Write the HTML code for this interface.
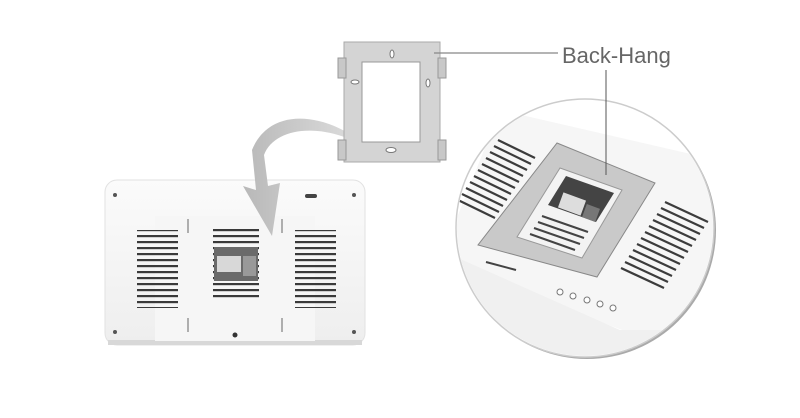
<!DOCTYPE html>
<html><head><meta charset="utf-8"><style>
html,body{margin:0;padding:0;background:#fff;width:800px;height:418px;overflow:hidden}
</style></head><body>
<svg width="800" height="418" viewBox="0 0 800 418" xmlns="http://www.w3.org/2000/svg">
<defs>
<linearGradient id="dev" x1="0" y1="0" x2="0" y2="1"><stop offset="0" stop-color="#fbfbfb"/><stop offset="1" stop-color="#eeeeee"/></linearGradient>
<linearGradient id="arr" x1="0" y1="0" x2="1" y2="0"><stop offset="0" stop-color="#b8b8b8"/><stop offset="1" stop-color="#e4e4e4"/></linearGradient>
<pattern id="vent" width="10" height="6" patternUnits="userSpaceOnUse"><rect width="10" height="2.2" y="1" fill="#3a3a3a"/></pattern>
<clipPath id="cc"><circle cx="585" cy="228" r="128"/></clipPath>
</defs>
<rect x="105" y="180" width="260" height="165" rx="12" fill="url(#dev)" stroke="#e2e2e2"/>
<rect x="108" y="340" width="254" height="5" fill="#d8d8d8"/>
<rect x="155" y="216" width="160" height="125" fill="#f6f6f6"/>
<rect x="137" y="230" width="41" height="78" fill="url(#vent)"/>
<rect x="295" y="230" width="41" height="78" fill="url(#vent)"/>
<rect x="213" y="227" width="46" height="73" fill="url(#vent)"/>
<rect x="214" y="247" width="44" height="34" fill="#6a6a6a"/>
<rect x="217" y="256" width="24" height="16" fill="#d8d8d8"/>
<rect x="243" y="256" width="13" height="20" fill="#999"/>
<circle cx="115" cy="195" r="2" fill="#555"/><circle cx="354" cy="195" r="2" fill="#555"/>
<circle cx="115" cy="332" r="2" fill="#555"/><circle cx="354" cy="332" r="2" fill="#555"/>
<circle cx="235" cy="335" r="2.5" fill="#333"/>
<rect x="305" y="194" width="12" height="4" rx="2" fill="#444"/>
<line x1="188" y1="219" x2="188" y2="233" stroke="#666"/><line x1="282" y1="219" x2="282" y2="233" stroke="#666"/>
<line x1="188" y1="318" x2="188" y2="332" stroke="#666"/><line x1="282" y1="318" x2="282" y2="332" stroke="#666"/>
<path d="M378,155 C330,110 270,105 252,150 L256,190 L243,186 L272,236 L280,183 L268,186 L264,155 C275,125 330,120 378,155 Z" fill="url(#arr)"/>
<rect x="344" y="42" width="96" height="120" fill="#d4d4d4" stroke="#aaa"/>
<rect x="338" y="58" width="8" height="20" fill="#c8c8c8" stroke="#999"/><rect x="438" y="58" width="8" height="20" fill="#c8c8c8" stroke="#999"/>
<rect x="338" y="140" width="8" height="20" fill="#c8c8c8" stroke="#999"/><rect x="438" y="140" width="8" height="20" fill="#c8c8c8" stroke="#999"/>
<rect x="362" y="62" width="58" height="80" fill="#fff" stroke="#999"/>
<ellipse cx="392" cy="54" rx="2" ry="4" fill="#fff" stroke="#777"/>
<ellipse cx="355" cy="82" rx="4" ry="2" fill="#fff" stroke="#777"/>
<ellipse cx="428" cy="83" rx="2" ry="4" fill="#fff" stroke="#777"/>
<ellipse cx="391" cy="150" rx="5" ry="2.5" fill="#fff" stroke="#777"/>
<line x1="434" y1="53" x2="558" y2="53" stroke="#888" stroke-width="1.2"/>
<text x="562" y="63" font-family="Liberation Sans, sans-serif" font-size="22" fill="#666">Back-Hang</text>
<circle cx="587" cy="230" r="129" fill="#aaa"/>
<circle cx="585" cy="228" r="129" fill="#fff" stroke="#ccc" stroke-width="1.5"/>
<g clip-path="url(#cc)">
<polygon points="500,110 760,170 700,360 440,260" fill="#f6f6f6"/>
<polygon points="440,250 620,330 700,330 700,380 440,380" fill="#f0f0f0"/>
<g stroke="#3c3c3c" stroke-width="2.2">
<line x1="498" y1="140" x2="535" y2="158"/><line x1="494" y1="146" x2="531" y2="164"/><line x1="490" y1="152" x2="527" y2="170"/><line x1="486" y1="158" x2="523" y2="176"/><line x1="482" y1="164" x2="519" y2="182"/><line x1="478" y1="170" x2="515" y2="188"/><line x1="474" y1="176" x2="511" y2="194"/><line x1="470" y1="182" x2="507" y2="200"/><line x1="466" y1="188" x2="503" y2="206"/><line x1="462" y1="194" x2="499" y2="212"/><line x1="458" y1="200" x2="495" y2="218"/>
<line x1="665" y1="202" x2="708" y2="222"/><line x1="661" y1="208" x2="704" y2="228"/><line x1="657" y1="214" x2="700" y2="234"/><line x1="653" y1="220" x2="696" y2="240"/><line x1="649" y1="226" x2="692" y2="246"/><line x1="645" y1="232" x2="688" y2="252"/><line x1="641" y1="238" x2="684" y2="258"/><line x1="637" y1="244" x2="680" y2="264"/><line x1="633" y1="250" x2="676" y2="270"/><line x1="629" y1="256" x2="672" y2="276"/><line x1="625" y1="262" x2="668" y2="282"/><line x1="621" y1="268" x2="664" y2="288"/>
</g>
<polygon points="557,143 655,183 597,277 478,245" fill="#c9c9c9" stroke="#888"/>
<polygon points="560,168 622,190 582,258 517,237" fill="#f3f3f3" stroke="#999"/>
<polygon points="566,176 614,193 596,222 548,205" fill="#444"/>
<rect x="560" y="196" width="24" height="16" fill="#ddd" transform="rotate(20 572 204)"/>
<rect x="584" y="206" width="14" height="14" fill="#777" transform="rotate(20 591 213)"/>
<g stroke="#444" stroke-width="2"><line x1="542" y1="216" x2="588" y2="232"/><line x1="538" y1="222" x2="584" y2="238"/><line x1="534" y1="228" x2="580" y2="244"/><line x1="530" y1="234" x2="575" y2="250"/></g>
<line x1="486" y1="262" x2="516" y2="270" stroke="#444" stroke-width="2"/>
<g fill="#fff" stroke="#777"><circle cx="560" cy="292" r="3"/><circle cx="573" cy="296" r="3"/><circle cx="587" cy="300" r="3"/><circle cx="600" cy="304" r="3"/><circle cx="613" cy="308" r="3"/></g>
</g>
<line x1="606" y1="70" x2="606" y2="175" stroke="#555" stroke-width="1"/>
</svg>
</body></html>
